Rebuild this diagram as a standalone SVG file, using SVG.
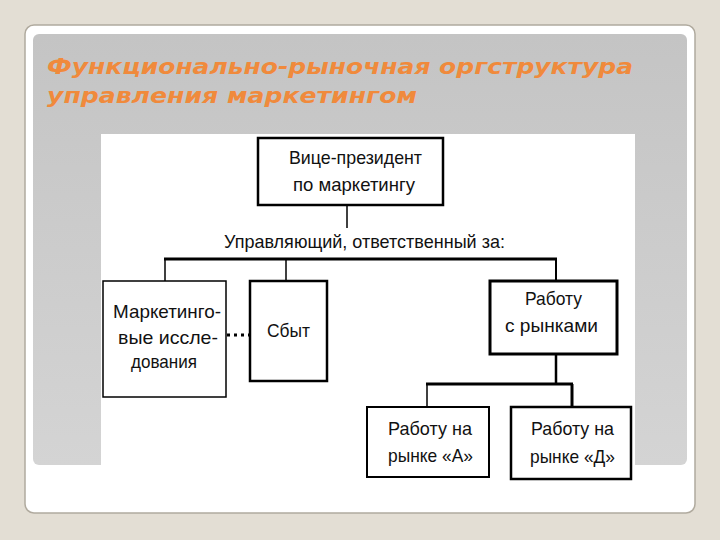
<svg xmlns="http://www.w3.org/2000/svg" width="720" height="540" viewBox="0 0 720 540">
<defs>
<linearGradient id="pg" x1="0" y1="0" x2="0" y2="1"><stop offset="0" stop-color="#c4c4c4"/><stop offset="1" stop-color="#d4d4d4"/></linearGradient>
<style>
.t{font-family:"Liberation Sans",Arial,sans-serif;font-size:19px;fill:#111;text-anchor:middle}
.b{fill:#fff;stroke:#000}
.c{fill:none;stroke:#000}
.title{font-family:"DejaVu Sans",sans-serif;font-weight:bold;font-style:italic;font-size:22px;fill:#f08a3c}
</style>
</defs>
<rect width="720" height="540" fill="#e3ded4"/>
<rect x="25" y="25" width="670" height="488" rx="9" fill="#fff" stroke="#b0aa9e" stroke-width="1.5"/>
<rect x="33" y="34" width="654" height="431" rx="6" fill="url(#pg)"/>
<text class="title" x="47" y="74" textLength="586" lengthAdjust="spacingAndGlyphs">Функционально-рыночная оргструктура</text>
<text class="title" x="47" y="103" textLength="370" lengthAdjust="spacingAndGlyphs">управления маркетингом</text>
<rect x="101" y="134" width="534" height="340" fill="#fff"/>
<g id="connectors">
<line class="c" x1="347" y1="205" x2="347" y2="228" stroke-width="1.5"/>
<line class="c" x1="164" y1="259" x2="557" y2="259" stroke-width="3"/>
<line class="c" x1="165" y1="259" x2="165" y2="281" stroke-width="1.5"/>
<line class="c" x1="286" y1="259" x2="286" y2="281" stroke-width="1.5"/>
<line class="c" x1="556" y1="259" x2="556" y2="281" stroke-width="2"/>
<line class="c" x1="227" y1="335" x2="250" y2="335" stroke-width="3" stroke-dasharray="3,4"/>
<line class="c" x1="556" y1="354" x2="556" y2="384" stroke-width="2.5"/>
<line class="c" x1="426" y1="384" x2="573" y2="384" stroke-width="3"/>
<line class="c" x1="427" y1="384" x2="427" y2="407" stroke-width="1.5"/>
<line class="c" x1="572" y1="384" x2="572" y2="407" stroke-width="3"/>
</g>
<g id="vp">
<rect class="b" x="258" y="138" width="185" height="67" stroke-width="2.5"/>
<text class="t" x="355.5" y="164" textLength="133" lengthAdjust="spacingAndGlyphs">Вице-президент</text>
<text class="t" x="354" y="191" textLength="122" lengthAdjust="spacingAndGlyphs">по  маркетингу</text>
</g>
<g id="label">
<text class="t" x="364.5" y="248" textLength="281" lengthAdjust="spacingAndGlyphs">Управляющий,  ответственный  за:</text>
</g>
<g id="research">
<rect class="b" x="103" y="281" width="123" height="116" stroke-width="1.5"/>
<text class="t" x="167" y="318" textLength="108" lengthAdjust="spacingAndGlyphs">Маркетинго-</text>
<text class="t" x="168" y="344" textLength="100" lengthAdjust="spacingAndGlyphs">вые  иссле-</text>
<text class="t" x="164" y="368" textLength="66" lengthAdjust="spacingAndGlyphs">дования</text>
</g>
<g id="sales">
<rect class="b" x="250" y="281" width="77" height="100" stroke-width="2.5"/>
<text class="t" x="288.5" y="337" textLength="43" lengthAdjust="spacingAndGlyphs">Сбыт</text>
</g>
<g id="markets">
<rect class="b" x="490" y="281" width="127" height="73" stroke-width="3"/>
<text class="t" x="553.5" y="305" textLength="57" lengthAdjust="spacingAndGlyphs">Работу</text>
<text class="t" x="551.5" y="332" textLength="93" lengthAdjust="spacingAndGlyphs">с  рынками</text>
</g>
<g id="marketA">
<rect class="b" x="367" y="407" width="122" height="70" stroke-width="2"/>
<text class="t" x="430" y="435" textLength="84" lengthAdjust="spacingAndGlyphs">Работу  на</text>
<text class="t" x="430.5" y="462" textLength="85" lengthAdjust="spacingAndGlyphs">рынке  «А»</text>
</g>
<g id="marketD">
<rect class="b" x="511" y="407" width="120" height="72" stroke-width="2.5"/>
<text class="t" x="572.5" y="435" textLength="83" lengthAdjust="spacingAndGlyphs">Работу  на</text>
<text class="t" x="572.5" y="463" textLength="85" lengthAdjust="spacingAndGlyphs">рынке  «Д»</text>
</g>
</svg>
